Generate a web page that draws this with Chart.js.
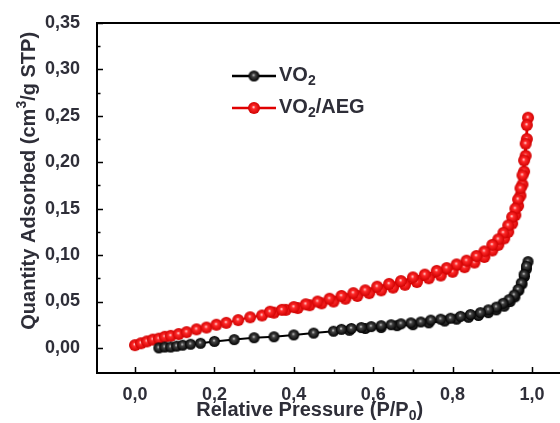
<!DOCTYPE html>
<html>
<head>
<meta charset="utf-8">
<title>N2 isotherms</title>
<script src="https://cdn.jsdelivr.net/npm/chart.js@4.4.1/dist/chart.umd.min.js"></script>
<style>
    html, body { margin: 0; padding: 0; background: #fff; }
</style>
</head>
<body>
<canvas id="isotherm" width="560" height="423"></canvas>
<script>
// VO2: adsorption branch, then desorption branch
const vo2AdsP = [0.06, 0.075, 0.09, 0.105, 0.12, 0.14, 0.165, 0.20, 0.25, 0.30, 0.35, 0.40, 0.45, 0.50, 0.54, 0.58, 0.62, 0.66, 0.70, 0.74, 0.78, 0.81, 0.84, 0.865, 0.89, 0.91, 0.93, 0.945, 0.957, 0.967, 0.975, 0.981, 0.986, 0.99];
const vo2AdsQ = [0.000, 0.001, 0.001, 0.002, 0.003, 0.004, 0.005, 0.007, 0.009, 0.011, 0.012, 0.014, 0.016, 0.018, 0.019, 0.021, 0.022, 0.024, 0.025, 0.027, 0.029, 0.031, 0.033, 0.035, 0.038, 0.041, 0.045, 0.050, 0.055, 0.062, 0.069, 0.077, 0.085, 0.093];
const vo2DesP = [0.986, 0.98, 0.973, 0.965, 0.955, 0.942, 0.927, 0.91, 0.89, 0.87, 0.845, 0.82, 0.795, 0.77, 0.745, 0.72, 0.695, 0.67, 0.645, 0.62, 0.595, 0.57, 0.545, 0.52];
const vo2DesQ = [0.088, 0.079, 0.070, 0.063, 0.057, 0.052, 0.048, 0.044, 0.041, 0.038, 0.036, 0.034, 0.032, 0.031, 0.030, 0.028, 0.027, 0.026, 0.025, 0.024, 0.023, 0.022, 0.021, 0.020];

// VO2/AEG
const aegAdsP = [0.00, 0.015, 0.03, 0.045, 0.06, 0.075, 0.09, 0.11, 0.13, 0.155, 0.18, 0.205, 0.23, 0.26, 0.29, 0.32, 0.35, 0.38, 0.41, 0.44, 0.47, 0.50, 0.53, 0.56, 0.59, 0.62, 0.65, 0.68, 0.71, 0.74, 0.77, 0.80, 0.83, 0.855, 0.88, 0.90, 0.915, 0.93, 0.94, 0.95, 0.958, 0.965, 0.971, 0.976, 0.98, 0.984, 0.987, 0.99];
const aegAdsQ = [0.003, 0.005, 0.007, 0.009, 0.010, 0.012, 0.013, 0.015, 0.017, 0.020, 0.022, 0.025, 0.027, 0.030, 0.033, 0.035, 0.038, 0.041, 0.043, 0.046, 0.048, 0.050, 0.053, 0.056, 0.059, 0.062, 0.065, 0.068, 0.071, 0.075, 0.078, 0.082, 0.087, 0.092, 0.098, 0.105, 0.111, 0.118, 0.125, 0.134, 0.143, 0.153, 0.164, 0.176, 0.190, 0.207, 0.225, 0.248];
const aegDesP = [0.987, 0.984, 0.98, 0.976, 0.971, 0.965, 0.958, 0.95, 0.94, 0.928, 0.915, 0.90, 0.88, 0.86, 0.835, 0.81, 0.785, 0.76, 0.73, 0.70, 0.67, 0.64, 0.61, 0.58, 0.55, 0.52, 0.49, 0.46, 0.43, 0.40, 0.37, 0.34];
const aegDesQ = [0.240, 0.220, 0.202, 0.186, 0.172, 0.160, 0.150, 0.141, 0.132, 0.124, 0.117, 0.111, 0.104, 0.099, 0.094, 0.090, 0.086, 0.083, 0.079, 0.076, 0.072, 0.069, 0.066, 0.062, 0.059, 0.056, 0.053, 0.050, 0.047, 0.044, 0.041, 0.039];

const xTicks = [0, 0.2, 0.4, 0.6, 0.8, 1.0];
const xMinorTicks = [0.1, 0.3, 0.5, 0.7, 0.9];
const yTicks = [0, 0.05, 0.10, 0.15, 0.20, 0.25, 0.30, 0.35];
const yMinorTicks = [0.025, 0.075, 0.125, 0.175, 0.225, 0.275, 0.325];

const seriesNames = ['VO', 'VO'];

const fontFamily = '"Liberation Sans", Arial, sans-serif';
const textColor = '#2e2e38';

function toPoints(p, q) {
    return p.map((x, i) => ({ x: x, y: q[i] }));
}

// little shaded balls used as markers
function makeBall(light, mid, dark, r) {
    const c = document.createElement('canvas');
    const s = Math.ceil(r * 2 + 2);
    c.width = s;
    c.height = s;
    const ctx = c.getContext('2d');
    const g = ctx.createRadialGradient(s / 2 - 0.5, s / 2 - 1, 0, s / 2, s / 2, r);
    g.addColorStop(0, light);
    g.addColorStop(0.3, mid);
    g.addColorStop(1, dark);
    ctx.fillStyle = g;
    ctx.beginPath();
    ctx.arc(s / 2, s / 2, r, 0, Math.PI * 2);
    ctx.fill();
    return c;
}

const blackBall = makeBall('#e0e0e0', '#444', '#000', 5.5);
const redBall = makeBall('#fff0f0', '#ff2a2a', '#d00000', 6);

function commaFmt(v, digits) {
    return v.toFixed(digits).replace('.', ',');
}

// draws a run of text pieces, some of them sub/superscript
function drawRich(ctx, parts, x, y, size, align) {
    const measure = (p) => {
        ctx.font = `bold ${p.sub || p.sup ? Math.round(size * 0.72) : size}px ${fontFamily}`;
        return ctx.measureText(p.t).width;
    };
    const total = parts.reduce((acc, p) => acc + measure(p), 0);
    let cx = align === 'center' ? x - total / 2 : x;
    ctx.textBaseline = 'middle';
    ctx.textAlign = 'left';
    parts.forEach((p) => {
        const w = measure(p);
        let dy = 0;
        if (p.sub) dy = size * 0.32;
        if (p.sup) dy = -size * 0.36;
        ctx.fillText(p.t, cx, y + dy);
        cx += w;
    });
}

const axesPlugin = {
    id: 'axesDecor',
    afterDatasetsDraw(chart) {
        const ctx = chart.ctx;
        const area = chart.chartArea;
        const xs = chart.scales.x;
        const ys = chart.scales.y;
        ctx.save();
        ctx.strokeStyle = '#000';
        ctx.lineWidth = 2;

        // frame
        ctx.beginPath();
        ctx.moveTo(area.right, area.top);
        ctx.lineTo(area.left, area.top);
        ctx.lineTo(area.left, area.bottom);
        ctx.lineTo(area.right, area.bottom);
        ctx.stroke();

        // inward ticks
        ctx.lineWidth = 1.5;
        ctx.beginPath();
        xTicks.forEach((v) => {
            const px = Math.round(xs.getPixelForValue(v)) + 0.5;
            ctx.moveTo(px, area.bottom);
            ctx.lineTo(px, area.bottom - 6);
        });
        xMinorTicks.forEach((v) => {
            const px = Math.round(xs.getPixelForValue(v)) + 0.5;
            ctx.moveTo(px, area.bottom);
            ctx.lineTo(px, area.bottom - 3.5);
        });
        yTicks.forEach((v) => {
            const py = Math.round(ys.getPixelForValue(v)) + 0.5;
            ctx.moveTo(area.left, py);
            ctx.lineTo(area.left + 6, py);
        });
        yMinorTicks.forEach((v) => {
            const py = Math.round(ys.getPixelForValue(v)) + 0.5;
            ctx.moveTo(area.left, py);
            ctx.lineTo(area.left + 3.5, py);
        });
        ctx.stroke();
        ctx.restore();
    },
    afterDraw(chart) {
        const ctx = chart.ctx;
        const area = chart.chartArea;
        const xs = chart.scales.x;
        const ys = chart.scales.y;
        ctx.save();
        ctx.fillStyle = textColor;

        // axis titles
        drawRich(ctx, [
            { t: 'Relative Pressure (P/P' }, { t: '0', sub: true }, { t: ')' }
        ], xs.getPixelForValue(0.44), 410, 20, 'center');

        ctx.translate(29, ys.getPixelForValue(0.18));
        ctx.rotate(-Math.PI / 2);
        drawRich(ctx, [
            { t: 'Quantity Adsorbed (cm' }, { t: '3', sup: true }, { t: '/g STP)' }
        ], 0, 0, 20, 'center');
        ctx.restore();

        // legend
        const entries = [
            { color: '#000', ball: blackBall, parts: [{ t: seriesNames[0] }, { t: '2', sub: true }] },
            { color: '#e00000', ball: redBall, parts: [{ t: seriesNames[1] }, { t: '2', sub: true }, { t: '/AEG' }] }
        ];
        ctx.save();
        entries.forEach((e, i) => {
            const y = area.top + 53 + i * 32;
            const x0 = area.left + 135;
            ctx.strokeStyle = e.color;
            ctx.lineWidth = 2.5;
            ctx.beginPath();
            ctx.moveTo(x0, y);
            ctx.lineTo(x0 + 44, y);
            ctx.stroke();
            ctx.drawImage(e.ball, x0 + 22 - e.ball.width / 2, y - e.ball.height / 2);
            ctx.fillStyle = textColor;
            drawRich(ctx, e.parts, x0 + 47, y - 1, 20, 'left');
        });
        ctx.restore();
    }
};

new Chart(document.getElementById('isotherm'), {
    type: 'scatter',
    data: {
        datasets: [
            {
                label: 'VO2',
                data: toPoints(vo2AdsP, vo2AdsQ).concat(toPoints(vo2DesP, vo2DesQ)),
                showLine: true,
                borderColor: '#000',
                borderWidth: 2,
                pointStyle: blackBall,
                order: 0
            },
            {
                label: 'VO2/AEG',
                data: toPoints(aegAdsP, aegAdsQ).concat(toPoints(aegDesP, aegDesQ)),
                showLine: true,
                borderColor: '#e00000',
                borderWidth: 2,
                pointStyle: redBall,
                order: 1
            }
        ]
    },
    options: {
        responsive: false,
        animation: false,
        layout: { padding: 0, autoPadding: false },
        plugins: {
            legend: { display: false },
            tooltip: { enabled: false }
        },
        scales: {
            x: {
                type: 'linear',
                min: -0.0957,
                max: 1.0705,
                afterBuildTicks: (scale) => {
                    scale.ticks = xTicks.map((v) => ({ value: v }));
                },
                afterFit: (scale) => {
                    scale.height = 50;
                    scale.paddingLeft = 0;
                    scale.paddingRight = 0;
                },
                grid: { display: false },
                border: { display: false },
                ticks: {
                    font: { family: fontFamily, size: 18, weight: 'bold' },
                    color: textColor,
                    padding: 3,
                    maxRotation: 0,
                    callback: (v) => commaFmt(v, 1)
                }
            },
            y: {
                type: 'linear',
                min: -0.027,
                max: 0.35,
                afterBuildTicks: (scale) => {
                    scale.ticks = yTicks.map((v) => ({ value: v }));
                },
                afterFit: (scale) => {
                    scale.width = 97;
                    scale.paddingTop = 23;
                    scale.paddingBottom = 0;
                },
                grid: { display: false },
                border: { display: false },
                ticks: {
                    font: { family: fontFamily, size: 18, weight: 'bold' },
                    color: textColor,
                    padding: 9,
                    callback: (v) => commaFmt(v, 2)
                }
            }
        }
    },
    plugins: [axesPlugin]
});
</script>
</body>
</html>
